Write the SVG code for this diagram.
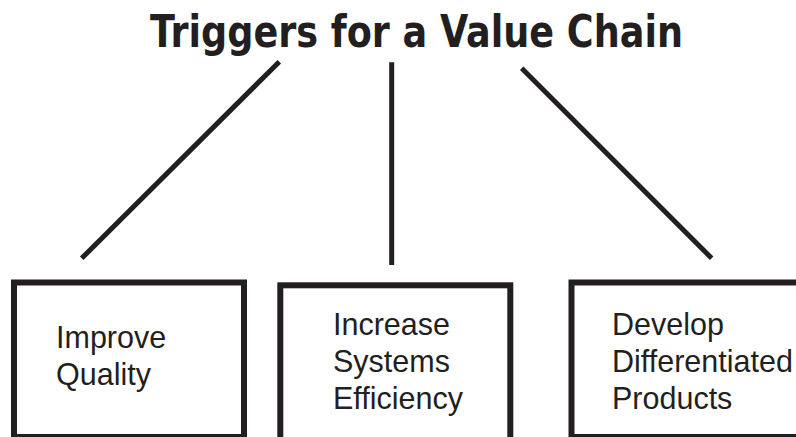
<svg xmlns="http://www.w3.org/2000/svg" width="796" height="437" viewBox="0 0 796 437">
<style>
.title{font-family:"DejaVu Sans Condensed","DejaVu Sans","Liberation Sans",sans-serif;font-weight:bold;font-stretch:condensed;font-size:44px;fill:#231f20}
.lbl{font-family:"Liberation Sans",Arial,sans-serif;font-size:30.5px;fill:#231f20}
.box{fill:#fff;stroke:#231f20;stroke-width:6}
.conn{stroke:#231f20;stroke-width:5;fill:none}
</style>
<rect width="796" height="437" fill="#fff"/>
<g id="title">
<text class="title" x="150" y="46.5" textLength="533" lengthAdjust="spacingAndGlyphs">Triggers for a Value Chain</text>
</g>
<g id="connectors">
<line class="conn" x1="279.3" y1="61.7" x2="81.7" y2="258.3"/>
<line class="conn" x1="391.7" y1="62.3" x2="391.7" y2="265"/>
<line class="conn" x1="521.7" y1="68.3" x2="711.7" y2="258.3"/>
</g>
<g id="node-quality">
<rect class="box" x="14" y="282.5" width="230" height="154.5"/>
<text class="lbl" x="56" y="347.5">Improve</text>
<text class="lbl" x="56" y="384.5">Quality</text>
</g>
<g id="node-efficiency">
<rect class="box" x="280.3" y="285.3" width="230" height="170"/>
<text class="lbl" x="333" y="335">Increase</text>
<text class="lbl" x="333" y="372">Systems</text>
<text class="lbl" x="333" y="409">Efficiency</text>
</g>
<g id="node-products">
<rect class="box" x="571.5" y="282.5" width="240" height="154.5"/>
<text class="lbl" x="612" y="335">Develop</text>
<text class="lbl" x="612" y="372">Differentiated</text>
<text class="lbl" x="612" y="409">Products</text>
</g>
</svg>
